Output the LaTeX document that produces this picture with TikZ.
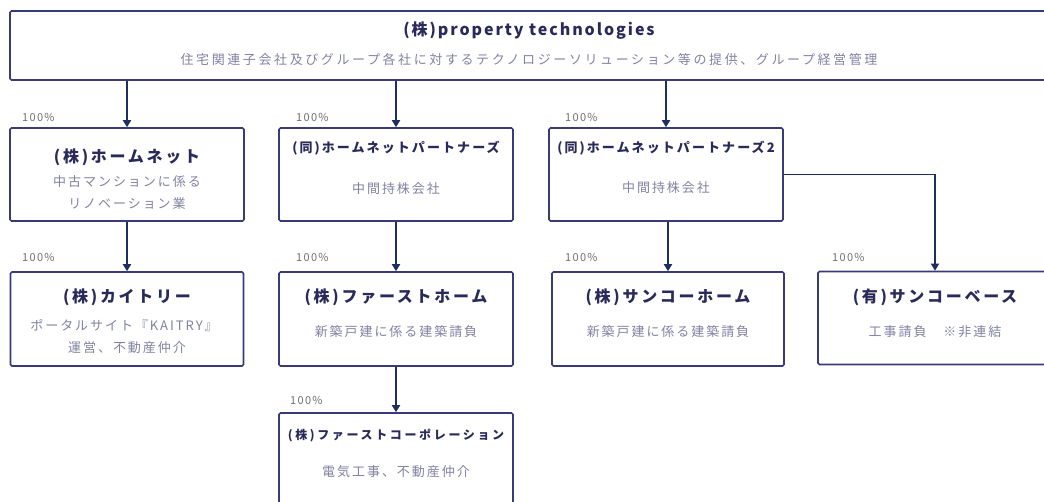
\documentclass[tikz,border=0pt]{standalone}
\usepackage{fontspec}
\setmainfont{Noto Sans CJK JP}
\usetikzlibrary{arrows.meta}
\definecolor{boxline}{HTML}{3A3A78}
\definecolor{arrline}{HTML}{1E2E5E}
\definecolor{ttlc}{HTML}{2A2A5A}
\definecolor{dscc}{HTML}{8282A2}
\definecolor{pctc}{HTML}{707070}
\newcommand\fTop{\fontsize{16}{19}\selectfont\bfseries\addfontfeatures{LetterSpace=12}}
\newcommand\fBig{\fontsize{16}{19}\selectfont\bfseries\addfontfeatures{LetterSpace=17}}
\newcommand\fMid{\fontsize{13}{16}\selectfont\bfseries\addfontfeatures{LetterSpace=16}}
\newcommand\fSml{\fontsize{12}{15}\selectfont\bfseries\addfontfeatures{LetterSpace=22}}
\newcommand\fDsc{\fontsize{13}{16}\selectfont\addfontfeatures{LetterSpace=15}}
\newcommand\fSub{\fontsize{13}{16}\selectfont\addfontfeatures{LetterSpace=20}}
\newcommand\fPct{\fontsize{11}{13}\selectfont\addfontfeatures{LetterSpace=12}}
\begin{document}
\begin{tikzpicture}[x=1pt,y=-1pt,
  box/.style={draw=boxline, line width=1.6pt, rounded corners=1.5pt, fill=white, inner sep=0pt},
  arr/.style={draw=arrline, line width=1.8pt, -{Triangle[width=8pt,length=7pt]}},
  ttlbig/.style={text=ttlc, inner sep=0pt, font=\fBig},
  ttlmid/.style={text=ttlc, inner sep=0pt, font=\fMid},
  ttlsml/.style={text=ttlc, inner sep=0pt, font=\fSml},
  ttltop/.style={text=ttlc, inner sep=0pt, font=\fTop},
  dsc/.style={text=dscc, inner sep=0pt, font=\fDsc},
  sub/.style={text=dscc, inner sep=0pt, font=\fSub},
  pct/.style={text=pctc, inner sep=0pt, anchor=west, font=\fPct}]
\path[use as bounding box] (0,0) rectangle (1044,502);
\clip (0,0) rectangle (1044,502);
\fill[white] (0,0) rectangle (1044,502);
% boxes
\node[box, minimum width=1038pt, minimum height=69pt] (top) at (529,45.5) {};
\node[box, minimum width=234pt, minimum height=93pt] (a) at (127,174.5) {};
\node[box, minimum width=234pt, minimum height=93pt] (b) at (396,174.5) {};
\node[box, minimum width=234pt, minimum height=93pt] (c) at (666,174.5) {};
\node[box, minimum width=233pt, minimum height=94pt] (a2) at (127,319) {};
\node[box, minimum width=234pt, minimum height=94pt] (b2) at (396,319) {};
\node[box, minimum width=232pt, minimum height=94pt] (c2) at (668,319) {};
\node[box, minimum width=234pt, minimum height=93pt] (d2) at (935,318) {};
\node[box, minimum width=234pt, minimum height=94pt] (b3) at (396,460) {};
% texts
\node[ttltop] (topt) at (529,31) {(株)property technologies};
\node[sub] (topd) at (529,60) {住宅関連子会社及びグループ各社に対するテクノロジーソリューション等の提供、グループ経営管理};
\node[ttlbig] (at) at (127,157) {(株)ホームネット};
\node[dsc] (ad1) at (127,182) {中古マンションに係る};
\node[dsc] (ad2) at (127,204) {リノベーション業};
\node[ttlmid] (bt) at (396,148) {(同)ホームネットパートナーズ};
\node[dsc] (bd) at (396,189) {中間持株会社};
\node[ttlmid] (ct) at (666,148) {(同)ホームネットパートナーズ2};
\node[dsc] (cd) at (666,188) {中間持株会社};
\node[ttlbig] (a2t) at (127,297) {(株)カイトリー};
\node[dsc] (a2d1) at (124,326) {ポータルサイト『KAITRY』};
\node[dsc] (a2d2) at (127,348) {運営、不動産仲介};
\node[ttlbig] (b2t) at (396,297) {(株)ファーストホーム};
\node[dsc] (b2d) at (396,332) {新築戸建に係る建築請負};
\node[ttlbig] (c2t) at (668,297) {(株)サンコーホーム};
\node[dsc] (c2d) at (668,332) {新築戸建に係る建築請負};
\node[ttlbig] (d2t) at (935,297) {(有)サンコーベース};
\node[dsc] (d2d) at (935,332) {工事請負　※非連結};
\node[ttlsml] (b3t) at (396,435) {(株)ファーストコーポレーション};
\node[dsc] (b3d) at (396,472) {電気工事、不動産仲介};
% percentages
\node[pct] (pa) at (22,117) {100\%};
\node[pct] (pb) at (296,117) {100\%};
\node[pct] (pc) at (565,117) {100\%};
\node[pct] (pa2) at (22,257) {100\%};
\node[pct] (pb2) at (296,257) {100\%};
\node[pct] (pc2) at (565,257) {100\%};
\node[pct] (pd2) at (832,257) {100\%};
\node[pct] (pb3) at (290,400) {100\%};
% connectors
\draw[arr] (top.south -| a.north) -- (a.north);
\draw[arr] (top.south -| b.north) -- (b.north);
\draw[arr] (top.south -| c.north) -- (c.north);
\draw[arr] (a.south) -- (a2.north);
\draw[arr] (b.south) -- (b2.north);
\draw[arr] (b2.south) -- (b3.north);
\draw[arr] (c.south -| c2.north) -- (c2.north);
\draw[arr, line width=1.4pt] (c.east) -| (d2.north);
\end{tikzpicture}
\end{document}
